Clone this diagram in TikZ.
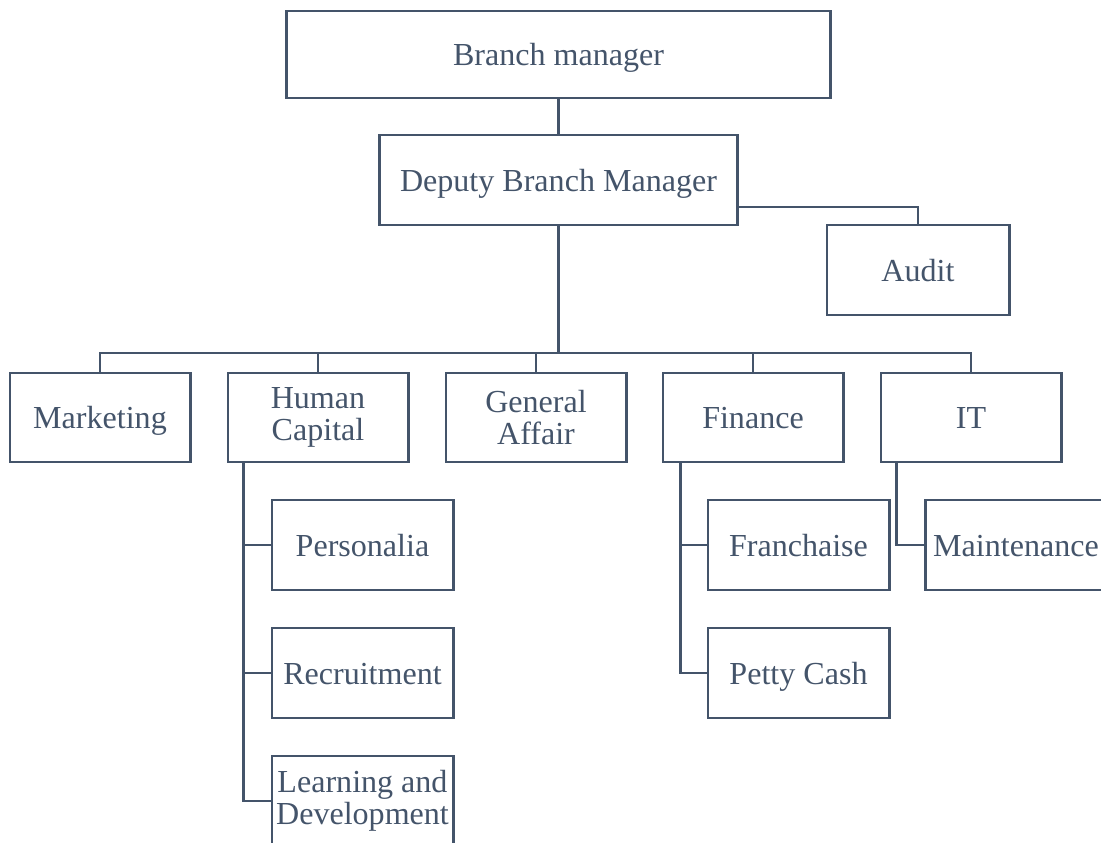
\documentclass[tikz,border=0pt]{standalone}
\usepackage{fontspec}
\newfontfamily\orgfont{Liberation Serif}
\definecolor{slate}{RGB}{68,84,106}
\newcommand\orgtext{\orgfont\fontsize{22.8}{22.5}\selectfont\lineskiplimit=-30pt\relax}
\begin{document}
\begin{tikzpicture}[x=0.025cm, y=-0.025cm,
    unit/.style={draw=slate, line width=2.1pt, text=slate, align=center,
      inner sep=0pt, font=\orgtext},
    oneline/.style={text height=21.7pt, text depth=5.7pt},
    wide/.style={unit, oneline, minimum width=#1, minimum height=2.25cm},
    dept/.style={unit, minimum width=4.5cm, minimum height=2.225cm},
    sect/.style={unit, minimum width=4.525cm, minimum height=2.25cm}]
  \useasboundingbox (0,0) rectangle (1101,843);
  \path
    (558.5,54.5) node[wide=13.575cm, minimum height=2.175cm] (bm){Branch manager}
    (558.5,180) node[wide=8.925cm] (dep){Deputy Branch Manager}
    (918,270) node[wide=4.55cm] (audit){Audit}
    (100,417.5) node[dept, oneline] (mkt){Marketing}
    (318,417.5) node[dept] (hc){Human\\Capital}
    (536,417.5) node[dept] (ga){General\\Affair}
    (753,417.5) node[dept, oneline] (fin){Finance}
    (971,417.5) node[dept, oneline] (it){IT}
    (362.5,545) node[sect, oneline] (pers){Personalia}
    (362.5,673) node[sect, oneline] (recr){Recruitment}
    (362.5,801) node[sect] (ld){Learning and\\Development}
    (798.5,545) node[sect, oneline] (fran){Franchaise}
    (798.5,673) node[sect, oneline] (petty){Petty Cash}
    (1016,545) node[sect, oneline] (maint){Maintenance};
  \coordinate (bus) at (558.5,353);
  \coordinate (depout) at ([yshift=-0.675cm]dep.east);
  \coordinate (hcspine) at ([xshift=0.425cm]hc.south west);
  \coordinate (finspine) at ([xshift=0.475cm]fin.south west);
  \coordinate (itspine) at ([xshift=0.425cm]it.south west);
  \begin{scope}[draw=slate, line width=2.1pt]
    \draw (bm) -- (dep);
    \draw (depout) -| (audit.north);
    \draw (dep.south) -- (bus);
    \draw (bus) -| (mkt.north);
    \draw (bus) -| (hc.north);
    \draw (bus) -| (ga.north);
    \draw (bus) -| (fin.north);
    \draw (bus) -| (it.north);
    \draw (hcspine) |- (pers.west);
    \draw (hcspine) |- (recr.west);
    \draw (hcspine) |- (ld.west);
    \draw (finspine) |- (fran.west);
    \draw (finspine) |- (petty.west);
    \draw (itspine) |- (maint.west);
  \end{scope}
\end{tikzpicture}
\end{document}
